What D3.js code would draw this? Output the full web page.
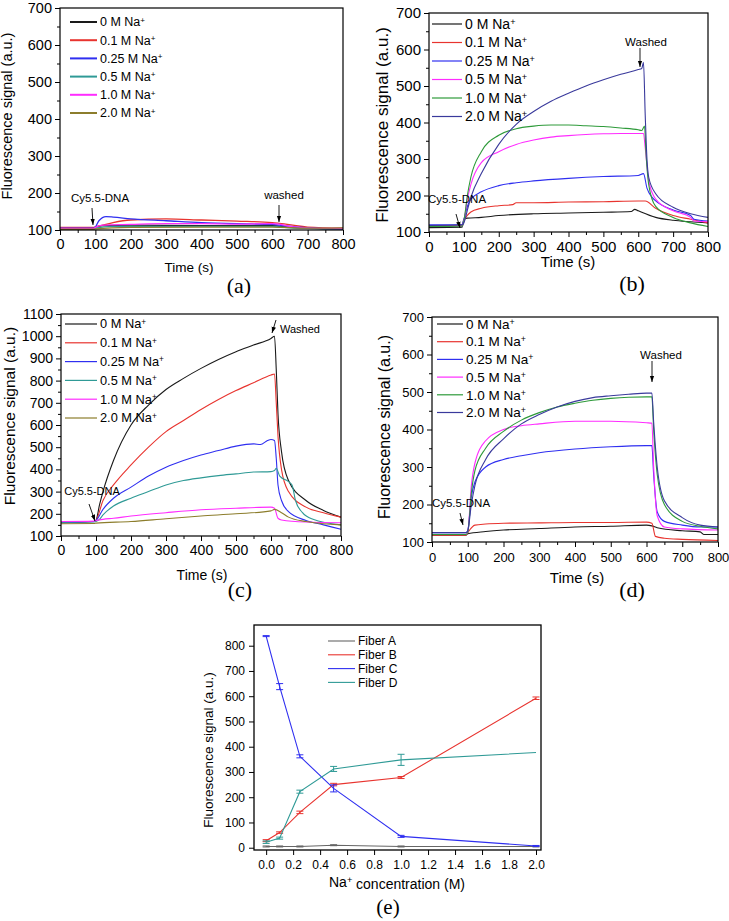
<!DOCTYPE html>
<html><head><meta charset="utf-8">
<script src="https://cdn.jsdelivr.net/npm/d3@7"></script>
<style>body{margin:0;background:#fff}</style></head>
<body>
<svg id="chart" width="729" height="921" xmlns="http://www.w3.org/2000/svg"></svg>
<script>
// ---------------- DATA ----------------
const concLabels = ["0 M Na", "0.1 M Na", "0.25 M Na", "0.5 M Na", "1.0 M Na", "2.0 M Na"];
const timeTicks = [0, 100, 200, 300, 400, 500, 600, 700, 800];
const yTicks700 = [100, 200, 300, 400, 500, 600, 700];
const yTicks1100 = [100, 200, 300, 400, 500, 600, 700, 800, 900, 1000, 1100];

// Panel (a)
const a_0   = [[0,104],[95,105],[100,108],[120,112],[200,113],[400,112],[600,112],[620,110],[700,105],[800,102]];
const a_01  = [[0,107],[95,107],[100,108],[150,120],[200,127],[300,130],[400,127],[500,124],[600,120],[620,118],[700,108],[800,105]];
const a_025 = [[0,105],[95,105],[100,108],[110,125],[130,136],[150,135],[200,130],[300,125],[400,120],[500,117],[600,115],[620,113],[700,106],[800,103]];
const a_05  = [[0,103],[95,103],[100,105],[150,110],[300,110],[500,110],[600,110],[650,106],[800,103]];
const a_1   = [[0,104],[95,104],[100,107],[120,113],[200,115],[300,117],[400,117],[500,116],[600,117],[620,116],[650,110],[700,106],[800,104]];
const a_2   = [[0,102],[95,102],[100,103],[200,107],[400,108],[600,108],[700,105],[800,106]];

// Panel (b)
const b_0   = [[0,112],[95,113],[100,135],[110,138],[150,140],[200,145],[300,150],[400,152],[500,154],[580,156],[590,162],[600,158],[650,140],[700,132],[750,128],[800,125]];
const b_01  = [[0,118],[95,118],[100,130],[120,155],[150,165],[200,172],[240,175],[250,180],[300,180],[400,182],[500,183],[600,185],[620,185],[650,165],[700,145],[750,135],[800,125]];
const b_025 = [[0,120],[95,120],[100,135],[110,170],[120,190],[150,210],[200,227],[250,235],[300,240],[400,247],[500,252],[600,255],[615,260],[625,220],[640,195],[650,185],[700,160],[750,145],[760,135],[800,130]];
const b_05  = [[0,115],[95,116],[100,130],[110,190],[120,230],[150,290],[200,320],[250,340],[300,352],[350,360],[400,364],[450,367],[500,369],[550,370],[600,370],[615,370],[620,330],[630,240],[650,190],[700,158],[750,140],[760,130],[800,128]];
const b_1   = [[0,115],[95,116],[100,130],[110,200],[120,250],[150,320],[200,365],[250,383],[300,390],[350,393],[400,393],[450,391],[500,389],[550,385],[600,380],[610,378],[618,390],[622,320],[630,230],[650,170],[700,140],[750,125],[800,115]];
const b_2   = [[0,118],[95,120],[100,125],[110,160],[120,195],[150,260],[200,340],[250,395],[300,430],[350,458],[400,480],[450,500],[500,517],[550,532],[600,545],[610,548],[615,565],[620,420],[625,300],[630,250],[650,205],[700,168],[750,150],[800,140]];

// Panel (c)
const c_0   = [[0,160],[95,165],[100,170],[110,240],[120,300],[150,440],[200,600],[250,690],[300,760],[350,810],[400,855],[450,895],[500,930],[550,960],[600,990],[610,1000],[615,850],[620,650],[630,480],[650,350],[700,260],[750,215],[800,185]];
const c_01  = [[0,162],[95,165],[100,170],[120,260],[150,330],[200,420],[250,500],[300,570],[350,620],[400,670],[450,715],[500,755],[550,790],[600,825],[610,830],[615,700],[620,550],[630,400],[650,300],[700,230],[750,205],[800,185]];
const c_025 = [[0,160],[95,165],[100,170],[120,220],[150,270],[200,320],[250,370],[300,410],[350,440],[400,465],[450,485],[500,505],[550,515],[570,512],[590,530],[600,535],[610,530],[615,450],[620,330],[630,260],[650,210],[700,170],[750,150],[800,130]];
const c_05  = [[0,162],[95,163],[100,165],[110,175],[120,195],[150,235],[200,270],[250,300],[300,330],[350,350],[400,362],[450,372],[500,380],[550,388],[600,390],[610,395],[615,405],[625,370],[650,345],[660,330],[670,260],[690,205],[720,175],[800,150]];
const c_1   = [[0,165],[95,167],[100,170],[120,175],[150,180],[200,190],[300,205],[400,218],[500,225],[600,230],[610,225],[620,180],[630,172],[700,163],[800,160]];
const c_2   = [[0,155],[95,156],[100,158],[200,165],[300,178],[400,190],[500,200],[600,213],[610,220],[630,205],[650,185],[700,165],[800,150]];

// Panel (d)
const d_0   = [[0,118],[95,118],[100,122],[150,128],[200,132],[300,136],[400,140],[500,142],[600,145],[615,143],[630,138],[700,130],[750,127],[760,120],[800,120]];
const d_01  = [[0,118],[95,118],[100,125],[120,145],[150,148],[200,150],[300,151],[400,152],[500,152],[600,153],[615,150],[625,115],[650,110],[700,107],[800,104]];
const d_025 = [[0,125],[95,125],[100,130],[110,220],[120,260],[150,300],[200,320],[250,330],[300,338],[400,348],[500,354],[600,357],[615,357],[620,280],[630,180],[650,155],[700,145],[750,140],[800,140]];
const d_05  = [[0,120],[95,120],[100,125],[110,250],[120,310],[150,370],[200,400],[250,410],[300,415],[400,422],[500,422],[600,418],[615,417],[620,300],[630,170],[650,140],[700,135],[800,132]];
const d_1   = [[0,120],[95,120],[100,125],[110,230],[120,290],[150,350],[200,395],[250,425],[300,445],[350,460],[400,470],[450,478],[500,483],[550,486],[600,487],[615,487],[620,400],[630,280],[650,200],[700,155],[750,142],[800,135]];
const d_2   = [[0,125],[95,125],[100,130],[110,200],[120,250],[150,320],[200,375],[250,415],[300,440],[350,460],[400,475],[450,485],[500,490],[550,494],[600,497],[615,497],[620,420],[630,300],[650,210],[700,165],[750,145],[800,140]];

// Panel (e)
const naConc = [0, 0.1, 0.25, 0.5, 1.0, 2.0];
const fiberNames = ["Fiber A", "Fiber B", "Fiber C", "Fiber D"];
const fiberA = [5, 5, 5, 10, 5, 5];
const fiberB = [28, 60, 140, 250, 278, 592];
const fiberC = [838, 638, 362, 235, 45, 7];
const fiberD = [22, 38, 222, 312, 348, 377];
const errA = [2, 2, 2, 2, 2, 2];
const errB = [4, 3, 5, 5, 4, 5];
const errC = [2, 12, 6, 14, 4, 2];
const errD = [5, 4, 6, 10, 22, 0];
const concTicks = [0, 0.2, 0.4, 0.6, 0.8, 1.0, 1.2, 1.4, 1.6, 1.8, 2.0];
const eYTicks = [0, 100, 200, 300, 400, 500, 600, 700, 800];

// ---------------- STYLE ----------------
const C = {black:"#1a1a1a", red:"#e8342f", blue:"#2f2ff0", teal:"#2f9a96", magenta:"#ff2cff",
           olive:"#8c7d2c", green:"#2e9a3a", navy:"#3a3a9c", grey:"#666"};
const SANS = "'Liberation Sans', Arial, sans-serif";
const SERIF = "'Liberation Serif', 'Times New Roman', serif";

const svg = d3.select("#chart");
const defs = svg.append("defs");
defs.append("marker").attr("id","arr").attr("viewBox","0 0 10 10").attr("refX",10).attr("refY",5)
  .attr("markerWidth",7).attr("markerHeight",7).attr("orient","auto-start-reverse")
  .append("path").attr("d","M0,1.5 L10,5 L0,8.5 Z").attr("fill","#000");

let clipId = 0;
function timePanel(cfg){
  const g = svg.append("g");
  const x = d3.scaleLinear().domain([0,800]).range([cfg.L, cfg.R]);
  const y = d3.scaleLinear().domain(cfg.yDom).range([cfg.B, cfg.T]);
  const id = "clip" + (clipId++);
  defs.append("clipPath").attr("id", id).append("rect")
    .attr("x", cfg.L).attr("y", cfg.T).attr("width", cfg.R-cfg.L).attr("height", cfg.B-cfg.T);
  const line = d3.line().x(d=>x(d[0])).y(d=>y(d[1])).curve(d3.curveMonotoneX);
  const lg = g.append("g").attr("clip-path", `url(#${id})`);
  cfg.series.forEach(s=>{
    lg.append("path").datum(s.data).attr("d", line).attr("fill","none")
      .attr("stroke", s.color).attr("stroke-width", cfg.lw || 1.1);
  });
  const xMinor = d3.range(50, 800, 100);
  const xa = g.append("g").attr("transform",`translate(0,${cfg.B})`)
    .call(d3.axisBottom(x).tickValues(timeTicks).tickFormat(d3.format("d")).tickSize(5).tickPadding(cfg.xPad||4).tickSizeOuter(0));
  const xm = g.append("g").attr("transform",`translate(0,${cfg.B})`)
    .call(d3.axisBottom(x).tickValues(xMinor).tickFormat("").tickSize(3).tickSizeOuter(0));
  const ya = g.append("g").attr("transform",`translate(${cfg.L},0)`)
    .call(d3.axisLeft(y).tickValues(cfg.yTicks).tickFormat(d3.format("d")).tickSize(5).tickPadding(cfg.yPad||3).tickSizeOuter(0));
  const yMinor = d3.range(cfg.yDom[0]+50, cfg.yDom[1], 100);
  const ym = g.append("g").attr("transform",`translate(${cfg.L},0)`)
    .call(d3.axisLeft(y).tickValues(yMinor).tickFormat("").tickSize(3).tickSizeOuter(0));
  [xa,xm,ya,ym].forEach(a=>{ a.select(".domain").remove();
    a.selectAll("line").attr("stroke","#000");
    a.selectAll("text").attr("font-family",SANS).attr("font-size",cfg.tickFs).attr("fill","#000"); });
  g.append("rect").attr("x",cfg.L).attr("y",cfg.T).attr("width",cfg.R-cfg.L).attr("height",cfg.B-cfg.T)
    .attr("fill","none").attr("stroke","#000").attr("stroke-width",1.2);
  g.append("text").attr("transform",`translate(${cfg.ylab[0]},${cfg.ylab[1]}) rotate(-90)`)
    .attr("text-anchor","middle").attr("dy","0.35em").attr("font-family",SANS).attr("font-size",cfg.labFs)
    .text("Fluorescence signal (a.u.)");
  g.append("text").attr("x",cfg.xlab[0]).attr("y",cfg.xlab[1]).attr("dy","0.35em")
    .attr("text-anchor","middle").attr("font-family",SANS).attr("font-size",cfg.xlabFs||cfg.labFs).text("Time (s)");
  cfg.series.forEach((s,i)=>{
    const yy = cfg.leg.y + i*cfg.leg.dy;
    g.append("line").attr("x1",cfg.leg.x).attr("x2",cfg.leg.x+cfg.leg.len).attr("y1",yy).attr("y2",yy)
      .attr("stroke",s.color).attr("stroke-width",cfg.legLw||1.2);
    const t = g.append("text").attr("x",cfg.leg.x+cfg.leg.len+3).attr("y",yy).attr("dy","0.35em")
      .attr("font-family",SANS).attr("font-size",cfg.leg.fs);
    t.append("tspan").text(s.label);
    t.append("tspan").attr("dy","-0.45em").attr("font-size","0.65em").text("+");
  });
  cfg.notes.forEach(n=>{
    g.append("text").attr("x",n.tx).attr("y",n.ty).attr("text-anchor","middle").attr("dy","0.35em")
      .attr("font-family",SANS).attr("font-size",n.fs||11).text(n.text);
    g.append("line").attr("x1",n.a[0]).attr("y1",n.a[1]).attr("x2",n.a[2]).attr("y2",n.a[3])
      .attr("stroke","#000").attr("stroke-width",0.9).attr("marker-end","url(#arr)");
  });
  g.append("text").attr("x",cfg.tag[0]).attr("y",cfg.tag[1]).attr("dy","0.35em").attr("text-anchor","middle")
    .attr("font-family",SERIF).attr("font-size",22).text(cfg.tag[2]);
}

function mk(datas, colors){ return datas.map((d,i)=>({data:d, color:colors[i], label:concLabels[i]})); }
const colsAC = [C.black, C.red, C.blue, C.teal, C.magenta, C.olive];
const colsBD = [C.black, C.red, C.blue, C.magenta, C.green, C.navy];

timePanel({L:60,R:343,T:8,B:230,yDom:[100,700],yTicks:yTicks700,tickFs:14.5,labFs:14.5,xlabFs:13.5,
  series:mk([a_0,a_01,a_025,a_05,a_1,a_2],colsAC), lw:1.3, legLw:2,
  ylab:[7,116], xlab:[189,267], leg:{x:70,y:22,dy:18.2,len:27,fs:12.5},
  notes:[{text:"Cy5.5-DNA",tx:100,ty:198,fs:11.5,a:[92,208,93,225]},
         {text:"washed",tx:284,ty:195,fs:11.5,a:[279,205,279,222]}],
  tag:[239,285,"(a)"], xPad:4, yPad:3});

timePanel({L:429,R:708,T:13,B:232,yDom:[100,700],yTicks:yTicks700,tickFs:15,labFs:17,xlabFs:15,
  series:mk([b_0,b_01,b_025,b_05,b_1,b_2],colsBD),
  ylab:[382,125], xlab:[568,262], leg:{x:432,y:24,dy:18.5,len:30,fs:14},
  notes:[{text:"Cy5.5-DNA",tx:457,ty:199,fs:11.5,a:[456,214,460,228]},
         {text:"Washed",tx:646,ty:42,fs:11.5,a:[640,48,640,67]}],
  tag:[632,283,"(b)"], xPad:4, yPad:3});

timePanel({L:61,R:341,T:314,B:536,yDom:[100,1100],yTicks:yTicks1100,tickFs:14,labFs:15.5,xlabFs:14,
  series:mk([c_0,c_01,c_025,c_05,c_1,c_2],colsAC),
  ylab:[10,416], xlab:[202,575], leg:{x:65,y:324,dy:18.8,len:32,fs:12.8},
  notes:[{text:"Cy5.5-DNA",tx:92,ty:491,fs:11,a:[89,504,95,521]},
         {text:"Washed",tx:300,ty:329,fs:11,a:[276,320,272,333]}],
  tag:[240,589,"(c)"], xPad:4, yPad:3});

timePanel({L:432,R:718,T:317,B:542,yDom:[100,700],yTicks:yTicks700,tickFs:13,labFs:16,xlabFs:15,
  series:mk([d_0,d_01,d_025,d_05,d_1,d_2],colsBD),
  ylab:[384,427], xlab:[577,578], leg:{x:437,y:324,dy:17.7,len:26,fs:13.5},
  notes:[{text:"Cy5.5-DNA",tx:461,ty:503,fs:11.5,a:[460,513,463,525]},
         {text:"Washed",tx:661,ty:355,fs:11.5,a:[652,361,652,382]}],
  tag:[632,589,"(d)"], xPad:6, yPad:3});

// ---------------- PANEL (e) ----------------
(function(){
  const L=254,R=541,T=625,B=850;
  const g = svg.append("g");
  const x = d3.scaleLinear().domain([-0.09,2.037]).range([L,R]);
  const y = d3.scaleLinear().domain([-9,882]).range([B,T]);
  const fibers = [fiberA,fiberB,fiberC,fiberD], errs=[errA,errB,errC,errD];
  const cols = [C.grey, C.red, C.blue, C.teal];
  const line = d3.line().x((d,i)=>x(naConc[i])).y(d=>y(d));
  fibers.forEach((f,k)=>{
    g.append("path").datum(f).attr("d",line).attr("fill","none").attr("stroke",cols[k]).attr("stroke-width",1.1);
    f.forEach((v,i)=>{
      const e=errs[k][i], xx=x(naConc[i]);
      if(e<=0) return;
      g.append("line").attr("x1",xx).attr("x2",xx).attr("y1",y(v-e)).attr("y2",y(v+e)).attr("stroke",cols[k]).attr("stroke-width",1);
      [v-e,v+e].forEach(w=>g.append("line").attr("x1",xx-3.5).attr("x2",xx+3.5).attr("y1",y(w)).attr("y2",y(w)).attr("stroke",cols[k]).attr("stroke-width",1));
    });
  });
  const xa = g.append("g").attr("transform",`translate(0,${B})`)
    .call(d3.axisBottom(x).tickValues(concTicks).tickFormat(d3.format(".1f")).tickSize(5).tickPadding(5).tickSizeOuter(0));
  const ya = g.append("g").attr("transform",`translate(${L},0)`)
    .call(d3.axisLeft(y).tickValues(eYTicks).tickFormat(d3.format("d")).tickSize(5).tickPadding(4).tickSizeOuter(0));
  [xa,ya].forEach(a=>{ a.select(".domain").remove(); a.selectAll("line").attr("stroke","#000");
    a.selectAll("text").attr("font-family",SANS).attr("font-size",12).attr("fill","#000"); });
  g.append("rect").attr("x",L).attr("y",T).attr("width",R-L).attr("height",B-T).attr("fill","none").attr("stroke","#000").attr("stroke-width",1.3);
  g.append("text").attr("transform",`translate(208,750) rotate(-90)`).attr("text-anchor","middle").attr("dy","0.35em")
    .attr("font-family",SANS).attr("font-size",13.5).text("Fluorescence signal (a.u.)");
  const xl = g.append("text").attr("x",397).attr("y",882).attr("dy","0.35em").attr("text-anchor","middle")
    .attr("font-family",SANS).attr("font-size",14);
  xl.append("tspan").text("Na");
  xl.append("tspan").attr("dy","-0.45em").attr("font-size","0.65em").text("+");
  xl.append("tspan").attr("dy","0.45em").text(" concentration (M)");
  fiberNames.forEach((n,i)=>{
    const yy = 641 + i*13.8;
    g.append("line").attr("x1",328).attr("x2",355).attr("y1",yy).attr("y2",yy).attr("stroke",cols[i]).attr("stroke-width",1.1);
    g.append("text").attr("x",358).attr("y",yy).attr("dy","0.35em").attr("font-family",SANS).attr("font-size",12).text(n);
  });
  g.append("text").attr("x",388).attr("y",907).attr("dy","0.35em").attr("text-anchor","middle")
    .attr("font-family",SERIF).attr("font-size",21).text("(e)");
})();
</script>
</body></html>
